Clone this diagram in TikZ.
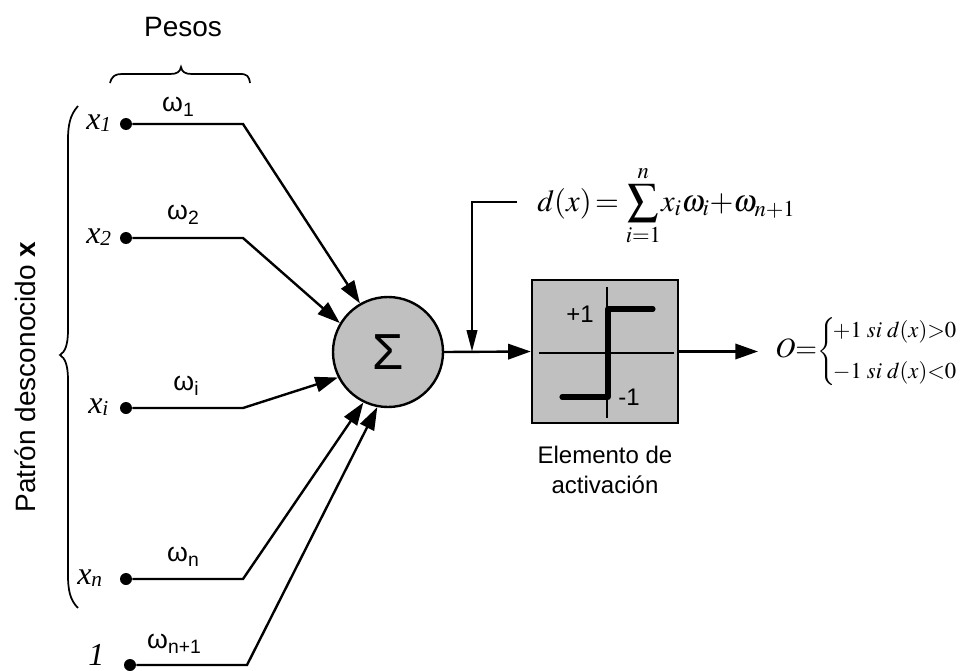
\documentclass[tikz,border=0pt]{standalone}
\usepackage{mathptmx}
\usepackage[no-math]{fontspec}
\setmainfont{Liberation Sans}
\newfontfamily\tms{Liberation Serif}
\usetikzlibrary{arrows.meta}
\definecolor{fillg}{HTML}{C0C0C0}
\newcommand\wsub[1]{ω\raisebox{-4pt}{\fontsize{14.5}{14.5}\selectfont #1}}
\newcommand\xsub[1]{x\raisebox{-1.5pt}{\fontsize{16}{16}\selectfont #1}}
\tikzset{
  wire/.style={line width=1.8pt},
  thinwire/.style={line width=1.3pt},
  arr/.style={wire,-{Triangle[length=17pt,width=11.5pt]}},
  dot/.style={circle,fill,inner sep=0pt,minimum size=9pt},
  wlab/.style={inner sep=0pt,font=\fontsize{20}{20}\selectfont},
  xlab/.style={inner sep=0pt,anchor=base west,font=\tms\itshape\fontsize{24}{24}\selectfont},
  lab/.style={inner sep=0pt,font=\fontsize{18}{18}\selectfont},
}
\begin{document}
\begin{tikzpicture}[x=0.75pt,y=-0.75pt]
\useasboundingbox (0,0) rectangle (965,671);
% braces
\draw[thinwire] (110,83) .. controls (112,76) and (115,74) .. (122,74) -- (170,74) .. controls (177,74) and (180,72) .. (181,67) .. controls (182,72) and (185,74) .. (192,74) -- (240,74) .. controls (247,74) and (249,76) .. (250,83);
\draw[thinwire] (78,106) .. controls (70,115) and (68,125) .. (68,140) -- (68,330) .. controls (68,345) and (65,352) .. (60,355) .. controls (65,358) and (68,365) .. (68,380) -- (68,575) .. controls (68,590) and (70,600) .. (78,608);
\node[font=\fontsize{21}{21}\selectfont] (pesos) at (183,27) {Pesos};
\node[rotate=90,font=\fontsize{21}{21}\selectfont] (patron) at (25,377) {Patrón desconocido \textbf{x}};
% summation node
\node[circle,draw,wire,fill=fillg,minimum size=82.5pt,inner sep=0pt,font=\fontsize{38}{38}\selectfont] (sum) at (388,352) {Σ};
% activation box
\node[draw,wire,fill=fillg,minimum width=109.5pt,minimum height=107.25pt,inner sep=0pt] (act) at (605,351.5) {};
\draw[thinwire] (539,353) -- (674,353);
\draw[thinwire] (607,287) -- (607,418);
\draw[line width=3.8pt,line cap=round,line join=round] (562,397) -- (608,397) -- (608,309) -- (653,309);
\node[lab] (p1) at (580,314) {+1};
\node[lab] (m1) at (629,397) {-1};
\node[lab,align=center,font=\fontsize{18}{23}\selectfont] (el) at (605,470) {Elemento de\\activación};
% inputs
\node[dot] (i1) at (126,124) {};
\node[dot] (i2) at (126,238) {};
\node[dot] (ii) at (126,408) {};
\node[dot] (in) at (126,579) {};
\node[dot] (ib) at (130,665) {};
\node[xlab] (l1) at (86,129) {\xsub{1}};
\node[xlab] (l2) at (86,243) {\xsub{2}};
\node[xlab] (li) at (88,413) {\xsub{i}};
\node[xlab] (ln) at (77,584) {\xsub{n}};
\node[xlab] (lb) at (88,665) {1};
\coordinate (k1) at (243,124);
\coordinate (k2) at (243,238);
\coordinate (ki) at (243,408);
\coordinate (kn) at (243,579);
\coordinate (kb) at (247,665);
\draw[arr] (i1) -- (k1) -- (sum.120);
\draw[arr] (i2) -- (k2) -- (sum.149);
\draw[arr] (ii) -- (ki) -- (sum.207);
\draw[arr] (in) -- (kn) -- (sum.244);
\draw[arr] (ib) -- (kb) -- (sum.259);
\node[wlab] (w1) at (178,107) {\wsub{1}};
\node[wlab] (w2) at (183,215) {\wsub{2}};
\node[wlab] (wi) at (186,386) {\wsub{i}};
\node[wlab] (wn) at (183,557) {\wsub{n}};
\node[wlab] (wb) at (174,644) {\wsub{n+1}};
% connections
\draw[arr] (sum.east) -- (act.west);
\coordinate (fa) at (517,202);
\coordinate (fb) at (472,202);
\coordinate (fc) at (472,351.5);
\draw[thinwire,-{Triangle[length=16pt,width=8pt]}] (fa) -- (fb) -- (fc);
\coordinate (oend) at (758,351.5);
\draw[arr] (act.east) -- (oend);
% formulas
\node[anchor=west,inner sep=0pt,font=\fontsize{23}{27}\selectfont] (dx) at (537,206) {$\displaystyle d(x)\,{=}\,\sum_{i=1}^{n}\!x_i\omega_i{+}\omega_{n{+}1}$};
\node[anchor=west,inner sep=0pt] (of) at (775,352) {{\fontsize{21}{21}\selectfont$O{=}$}{\fontsize{17}{22}\selectfont$\left\{\!\begin{array}{@{}l@{}}+1\;si\;d(x){>}0\\[9pt] -1\;si\;d(x){<}0\end{array}\right.$}};
\end{tikzpicture}
\end{document}
